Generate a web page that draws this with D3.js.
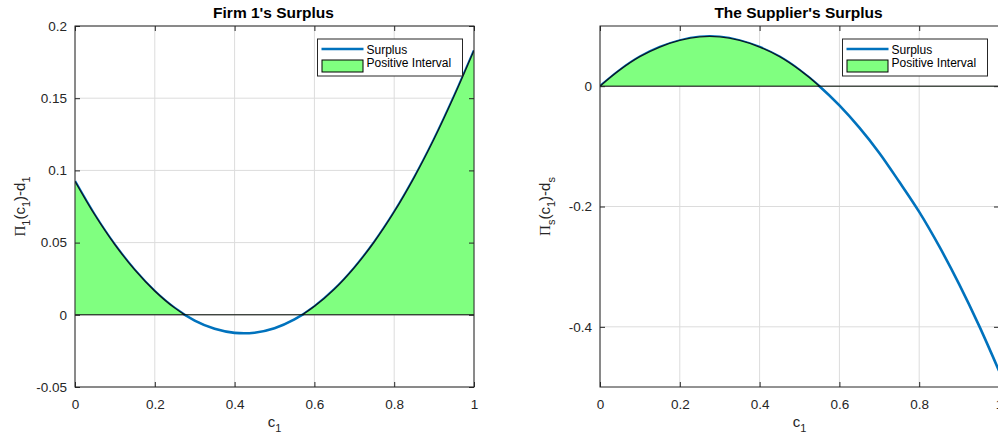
<!DOCTYPE html>
<html><head><meta charset="utf-8">
<script src="https://cdn.jsdelivr.net/npm/d3@7"></script>
<style>
body{margin:0;background:#fff;}
svg{display:block;}
text{font-family:"Liberation Sans",Arial,sans-serif;}
</style></head>
<body>
<svg id="chart" width="998" height="441"></svg>
<script>
// ---- data ----
const c1Values = [0,0.05,0.1,0.15,0.2,0.25,0.3,0.35,0.4,0.45,0.5,0.55,0.6,0.65,0.7,0.75,0.8,0.85,0.9,0.95,1];
const firmSurplus = [0.0925,0.0690,0.0485,0.0310,0.0164,0.0047,-0.0040,-0.0097,-0.0125,-0.0124,-0.0093,-0.0032,0.0058,0.0177,0.0326,0.0504,0.0712,0.0950,0.1217,0.1513,0.1830];
const supplierSurplus = [0,0.027,0.049,0.065,0.076,0.082,0.082,0.076,0.065,0.049,0.027,0,-0.032,-0.069,-0.111,-0.159,-0.209,-0.266,-0.329,-0.398,-0.473];
const xTicks = [0,0.2,0.4,0.6,0.8,1];
const xTickLabels = ["0","0.2","0.4","0.6","0.8","1"];
const firmYTicks = [-0.05,0,0.05,0.1,0.15,0.2];
const firmYTickLabels = ["-0.05","0","0.05","0.1","0.15","0.2"];
const supYTicks = [-0.4,-0.2,0];
const supYTickLabels = ["-0.4","-0.2","0"];
const titles = ["Firm 1's Surplus","The Supplier's Surplus"];
const legendLabels = ["Surplus","Positive Interval"];

const svg = d3.select("#chart");
const axisColor = "#262626";

function panel(opts){
  const {id,left,right,top,bottom,yDomain,values,yTicks,yTickLabels,title,yLabelSub,legendX} = opts;
  const g = svg.append("g");
  const x = d3.scaleLinear().domain([0,1]).range([left,right]);
  const y = d3.scaleLinear().domain(yDomain).range([bottom,top]);
  const pts = c1Values.map((c,i)=>[c,values[i]]);

  // grid
  g.selectAll(".gx").data(xTicks).join("line")
    .attr("x1",d=>x(d)).attr("x2",d=>x(d)).attr("y1",top).attr("y2",bottom)
    .attr("stroke","#dcdcdc").attr("stroke-width",1);
  g.selectAll(".gy").data(yTicks).join("line")
    .attr("x1",left).attr("x2",right).attr("y1",d=>y(d)).attr("y2",d=>y(d))
    .attr("stroke","#dcdcdc").attr("stroke-width",1);

  const clipAll = "clipall"+id, clipPos = "clippos"+id;
  const defs = svg.append("defs");
  defs.append("clipPath").attr("id",clipAll).append("rect")
    .attr("x",left).attr("y",top).attr("width",right-left).attr("height",bottom-top);
  defs.append("clipPath").attr("id",clipPos).append("rect")
    .attr("x",left).attr("y",top-5).attr("width",right-left).attr("height",y(0)-top+5);

  const line = d3.line().x(d=>x(d[0])).y(d=>y(d[1])).curve(d3.curveCatmullRom);
  const area = d3.area().x(d=>x(d[0])).y0(y(0)).y1(d=>y(d[1])).curve(d3.curveCatmullRom);

  // blue surplus line
  g.append("path").datum(pts).attr("d",line).attr("fill","none")
    .attr("stroke","#0072BD").attr("stroke-width",2.6).attr("clip-path",`url(#${clipAll})`);
  // positive-interval patch
  g.append("path").datum(pts).attr("d",area).attr("fill","#80FF80")
    .attr("clip-path",`url(#${clipPos})`);
  g.append("path").datum(pts).attr("d",line).attr("fill","none")
    .attr("stroke","#0a1a2a").attr("stroke-width",1.4).attr("clip-path",`url(#${clipPos})`);
  g.append("line").attr("x1",left).attr("x2",right).attr("y1",y(0)).attr("y2",y(0))
    .attr("stroke","#000").attr("stroke-width",1);

  // box
  g.append("rect").attr("x",left).attr("y",top).attr("width",right-left).attr("height",bottom-top)
    .attr("fill","none").attr("stroke",axisColor).attr("stroke-width",1);

  // axes with inner ticks
  const xb = g.append("g").attr("transform",`translate(0,${bottom})`)
    .call(d3.axisBottom(x).tickValues(xTicks).tickFormat((d,i)=>xTickLabels[i]).tickSizeInner(-5).tickSizeOuter(0).tickPadding(12));
  const xt = g.append("g").attr("transform",`translate(0,${top})`)
    .call(d3.axisTop(x).tickValues(xTicks).tickFormat("").tickSizeInner(-5).tickSizeOuter(0));
  const yl = g.append("g").attr("transform",`translate(${left},0)`)
    .call(d3.axisLeft(y).tickValues(yTicks).tickFormat((d,i)=>yTickLabels[i]).tickSizeInner(-5).tickSizeOuter(0).tickPadding(8));
  const yr = g.append("g").attr("transform",`translate(${right},0)`)
    .call(d3.axisRight(y).tickValues(yTicks).tickFormat("").tickSizeInner(-5).tickSizeOuter(0));
  [xb,xt,yl,yr].forEach(a=>{
    a.select(".domain").remove();
    a.selectAll("line").attr("stroke",axisColor);
    a.selectAll("text").attr("fill",axisColor).style("font-size","13.5px")
      .style("font-family","'Liberation Sans',Arial,sans-serif");
  });
  xb.selectAll("text").attr("dy","0.71em");

  // title
  g.append("text").attr("x",(left+right)/2 - 1).attr("y",18)
    .attr("text-anchor","middle").style("font-size","15.5px").style("font-weight","bold")
    .attr("fill","#000").text(title);

  // x label
  const xlab = g.append("text").attr("x",x(0.5)).attr("y",427).attr("text-anchor","middle")
    .attr("fill",axisColor).style("font-size","15px");
  xlab.append("tspan").text("c");
  xlab.append("tspan").attr("dy",5).style("font-size","11px").text("1");

  // y label
  const ylab = g.append("text").attr("transform",`translate(${left-50},${(top+bottom)/2}) rotate(-90)`)
    .attr("text-anchor","middle").attr("fill",axisColor).style("font-size","15px");
  ylab.append("tspan").style("font-family","'Liberation Serif','Times New Roman',serif").text("\u03A0");
  ylab.append("tspan").attr("dy",5).style("font-size","11px").text(yLabelSub);
  ylab.append("tspan").attr("dy",-5).text("(c");
  ylab.append("tspan").attr("dy",5).style("font-size","11px").text("1");
  ylab.append("tspan").attr("dy",-5).text(")-d");
  ylab.append("tspan").attr("dy",5).style("font-size","11px").text(yLabelSub);

  // legend
  const lg = g.append("g");
  lg.append("rect").attr("x",legendX).attr("y",39).attr("width",145).attr("height",37)
    .attr("fill","#fff").attr("stroke",axisColor).attr("stroke-width",1);
  lg.append("line").attr("x1",legendX+4).attr("x2",legendX+46).attr("y1",49).attr("y2",49)
    .attr("stroke","#0072BD").attr("stroke-width",2.6);
  lg.append("rect").attr("x",legendX+4.5).attr("y",60).attr("width",41).attr("height",12)
    .attr("fill","#80FF80").attr("stroke","#000").attr("stroke-width",1);
  lg.selectAll(".lt").data(legendLabels).join("text")
    .attr("x",legendX+49).attr("y",(d,i)=>53.5+i*13.5).attr("fill","#000")
    .style("font-size","12px").text(d=>d);
}

panel({id:"a",left:75,right:474,top:26,bottom:387,yDomain:[-0.05,0.2],values:firmSurplus,
  yTicks:firmYTicks,yTickLabels:firmYTickLabels,title:titles[0],yLabelSub:"1",legendX:317.5});
panel({id:"b",left:600,right:999,top:26,bottom:387,yDomain:[-0.5,0.1],values:supplierSurplus,
  yTicks:supYTicks,yTickLabels:supYTickLabels,title:titles[1],yLabelSub:"s",legendX:842.5});
</script>
</body></html>
